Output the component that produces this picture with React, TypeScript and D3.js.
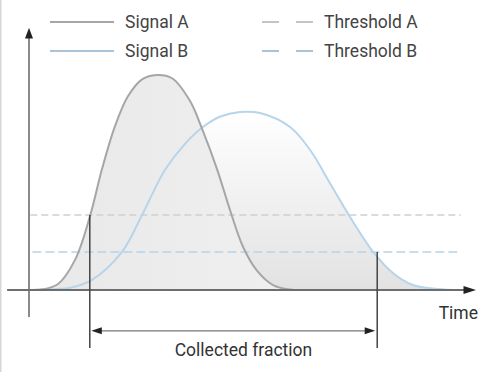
import { useEffect, useRef } from 'react';
import * as d3 from 'd3';

// Signal traces (time units, relative signal %)
const signalATime = [0, 3.1, 6.5, 10.3, 13.6, 16.3, 19.2, 22.1, 25.3, 28.6, 32.0, 36.0, 38.9, 42.1, 45.0, 47.9, 51.0, 54.6, 58.4, 62];
const signalAValue = [0, 0.3, 2.8, 14, 34, 56, 76, 90, 98, 100, 98.5, 88, 74, 56, 37, 20, 9, 2.3, 0.2, 0];

const signalBTime = [0, 3.6, 9.2, 14.1, 20.8, 25.3, 30.4, 34.9, 38.9, 42.7, 47.2, 51.7, 58.4, 62.9, 67.3, 71.8, 77.0, 81.4, 85.9, 91.3, 96.4];
const signalBValue = [0, 0.2, 1, 4.7, 17.7, 34.9, 55.8, 68, 75.8, 80.6, 82.8, 82.3, 75.8, 65.1, 49.8, 34, 17.7, 7.9, 2.3, 0.5, 0];

const thresholdNames = ['Threshold A', 'Threshold B'];
const thresholdValues = [34.9, 17.7];
const thresholdRange = [0.3, 96.6];

const collectStart = 13.6;
const collectEnd = 77.9;

const legendNames = ['Signal A', 'Signal B'];

const colorA = '#a6a6a6';
const colorB = '#b7d4ea';
const thresholdColors = ['#cfcfcf', '#b7d4ea'];

export default function App() {
  const svgRef = useRef<SVGSVGElement>(null);
  const width = 496;
  const height = 372;

  useEffect(() => {
    if (!svgRef.current) return;
    const svg = d3.select(svgRef.current);
    svg.selectAll('*').remove();

    const x = d3.scaleLinear().domain([0, 100]).range([29, 476]);
    const y = d3.scaleLinear().domain([0, 100]).range([290, 75]);

    const font = 'Roboto, "Noto Sans", sans-serif';
    const fontSize = '17.5px';

    const defs = svg.append('defs');
    const grad = defs.append('linearGradient')
      .attr('id', 'fillB')
      .attr('x1', 0).attr('y1', 0).attr('x2', 0).attr('y2', 1);
    grad.append('stop').attr('offset', '0%').attr('stop-color', '#ffffff');
    grad.append('stop').attr('offset', '100%').attr('stop-color', '#e2e2e2');

    const gradA = defs.append('linearGradient')
      .attr('id', 'fillA')
      .attr('x1', 0).attr('y1', 0).attr('x2', 1).attr('y2', 0);
    gradA.append('stop').attr('offset', '0%').attr('stop-color', '#e8e8e8');
    gradA.append('stop').attr('offset', '100%').attr('stop-color', '#f0f0f0');

    // frame edge
    svg.append('line')
      .attr('x1', 0.5).attr('x2', 0.5).attr('y1', 0).attr('y2', height)
      .attr('stroke', '#d6d6d6').attr('stroke-width', 2);

    const ptsA = signalATime.map((t, i) => [t, signalAValue[i]] as [number, number]);
    const ptsB = signalBTime.map((t, i) => [t, signalBValue[i]] as [number, number]);

    const curve = d3.curveCatmullRom.alpha(0.5);

    const area = d3.area<[number, number]>()
      .x(d => x(d[0]))
      .y0(y(0))
      .y1(d => Math.min(y(0), y(d[1])))
      .curve(curve);

    const line = d3.line<[number, number]>()
      .x(d => x(d[0]))
      .y(d => y(d[1]))
      .curve(curve);

    // filled areas
    svg.append('path').datum(ptsB).attr('d', area).attr('fill', 'url(#fillB)');
    svg.append('path').datum(ptsA).attr('d', area).attr('fill', 'url(#fillA)');

    // threshold lines
    thresholdValues.forEach((v, i) => {
      svg.append('line')
        .attr('x1', x(thresholdRange[0]) + i * 2)
        .attr('x2', x(thresholdRange[1]))
        .attr('y1', y(v)).attr('y2', y(v))
        .attr('stroke', thresholdColors[i])
        .attr('stroke-width', 1.5)
        .attr('stroke-dasharray', i === 0 ? '7,4' : '9,4');
    });

    // signal curves
    svg.append('path').datum(ptsB).attr('d', line)
      .attr('fill', 'none').attr('stroke', colorB).attr('stroke-width', 2);
    svg.append('path').datum(ptsA).attr('d', line)
      .attr('fill', 'none').attr('stroke', colorA).attr('stroke-width', 2);

    // axes
    svg.append('line')
      .attr('x1', x(0)).attr('x2', x(0))
      .attr('y1', y(-12.6)).attr('y2', y(118))
      .attr('stroke', '#8a8a8a').attr('stroke-width', 2);
    svg.append('path')
      .attr('d', `M${x(0)},${y(122)} L${x(0) - 4},${y(117)} L${x(0) + 4},${y(117)} Z`)
      .attr('fill', '#222');

    svg.append('line')
      .attr('x1', x(-4.9)).attr('x2', x(97.5))
      .attr('y1', y(0)).attr('y2', y(0))
      .attr('stroke', '#6e6e6e').attr('stroke-width', 2);
    svg.append('path')
      .attr('d', `M${x(100)},${y(0)} L${x(97.2)},${y(0) - 4} L${x(97.2)},${y(0) + 4} Z`)
      .attr('fill', '#222');

    svg.append('text')
      .attr('x', x(100) + 2).attr('y', 319)
      .attr('text-anchor', 'end')
      .style('font-family', font).style('font-size', fontSize).style('fill', '#333')
      .text('Time');

    // collection markers
    [[collectStart, thresholdValues[0]], [collectEnd, thresholdValues[1]]].forEach(([t, v]) => {
      svg.append('line')
        .attr('x1', x(t)).attr('x2', x(t))
        .attr('y1', y(v)).attr('y2', y(-27))
        .attr('stroke', '#444').attr('stroke-width', 1.5);
    });

    const ay = y(-19);
    svg.append('line')
      .attr('x1', x(collectStart) + 8).attr('x2', x(collectEnd) - 8)
      .attr('y1', ay).attr('y2', ay)
      .attr('stroke', '#777').attr('stroke-width', 1.2);
    svg.append('path')
      .attr('d', `M${x(collectStart) + 1.5},${ay} L${x(collectStart) + 12},${ay - 3.5} L${x(collectStart) + 12},${ay + 3.5} Z`)
      .attr('fill', '#222');
    svg.append('path')
      .attr('d', `M${x(collectEnd) - 2},${ay} L${x(collectEnd) - 12.5},${ay - 3.5} L${x(collectEnd) - 12.5},${ay + 3.5} Z`)
      .attr('fill', '#222');

    svg.append('text')
      .attr('x', (x(collectStart) + x(collectEnd)) / 2 + 10).attr('y', 356)
      .attr('text-anchor', 'middle')
      .style('font-family', font).style('font-size', fontSize).style('fill', '#333')
      .text('Collected fraction');

    // legend
    const legendY = [22, 51];
    legendNames.forEach((name, i) => {
      svg.append('line')
        .attr('x1', 50).attr('x2', 114)
        .attr('y1', legendY[i]).attr('y2', legendY[i])
        .attr('stroke', i === 0 ? colorA : '#a9c4d8').attr('stroke-width', 2);
      svg.append('text')
        .attr('x', 125).attr('y', legendY[i] + 6)
        .style('font-family', font).style('font-size', fontSize).style('fill', '#444')
        .text(name);
    });
    thresholdNames.forEach((name, i) => {
      svg.append('line')
        .attr('x1', 262).attr('x2', 314)
        .attr('y1', legendY[i]).attr('y2', legendY[i])
        .attr('stroke', i === 0 ? '#c4c4c4' : '#a9c4d8').attr('stroke-width', 2)
        .attr('stroke-dasharray', '17,17');
      svg.append('text')
        .attr('x', 324).attr('y', legendY[i] + 6)
        .style('font-family', font).style('font-size', fontSize).style('fill', '#444')
        .text(name);
    });
  }, []);

  return (
    <svg
      ref={svgRef}
      width={width}
      height={height}
      viewBox={`0 0 ${width} ${height}`}
      style={{ position: 'absolute', left: 0, top: 0, background: '#fff' }}
    />
  );
}
